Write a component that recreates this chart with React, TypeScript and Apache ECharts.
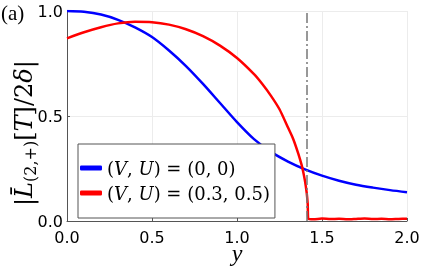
import React, { useEffect, useRef } from "react";
import * as echarts from "echarts";

const xTicks = [0, 0.5, 1.0, 1.5, 2.0];
const yTicks = [0, 0.5, 1.0];
const seriesNames = ["(V,U)=(0,0)", "(V,U)=(0.3,0.5)"];

const blueX = [0, 0.1, 0.2, 0.3, 0.4, 0.5, 0.6, 0.7, 0.8, 0.9, 1.0, 1.1, 1.2, 1.3, 1.4, 1.5, 1.6, 1.7, 1.8, 1.9, 2.0];
const blueY = [1.0, 0.996, 0.983, 0.958, 0.922, 0.876, 0.812, 0.738, 0.653, 0.562, 0.471, 0.39, 0.329, 0.283, 0.246, 0.216, 0.192, 0.173, 0.159, 0.147, 0.137];

const redX = [0, 0.1, 0.2, 0.3, 0.4, 0.5, 0.6, 0.7, 0.8, 0.9, 1.0, 1.1, 1.15, 1.2, 1.25, 1.3, 1.33, 1.36, 1.38, 1.39, 1.4, 1.41, 1.416, 1.42, 1.45, 1.5, 1.55, 1.6, 1.65, 1.7, 1.75, 1.8, 1.85, 1.9, 1.95, 2.0];
const redY = [0.87, 0.899, 0.923, 0.941, 0.949, 0.947, 0.935, 0.913, 0.88, 0.835, 0.776, 0.699, 0.651, 0.596, 0.532, 0.445, 0.392, 0.322, 0.267, 0.232, 0.19, 0.134, 0.08, 0.01, 0.008, 0.012, 0.009, 0.011, 0.008, 0.01, 0.012, 0.009, 0.011, 0.008, 0.01, 0.011];

const thresholdX = 1.414;

export default function App() {
  const ref = useRef<HTMLDivElement>(null);
  useEffect(() => {
    if (!ref.current) return;
    const chart = echarts.init(ref.current, undefined, { renderer: "svg" });
    const serif = "'Liberation Serif', 'DejaVu Serif', serif";
    const serif2 = "'DejaVu Serif', serif";
    const sans = "'DejaVu Sans', sans-serif";
    chart.setOption({
      animation: false,
      grid: { left: 67, right: 14, top: 11, bottom: 48, outerBoundsMode: "none", containLabel: false },
      xAxis: {
        type: "value",
        min: xTicks[0],
        max: xTicks[xTicks.length - 1],
        interval: 0.5,
        name: "y",
        nameLocation: "middle",
        nameGap: 24,
        nameMoveOverlap: false,
        nameTextStyle: { fontFamily: serif, fontStyle: "italic", fontSize: 24, color: "#000", lineHeight: 15 },
        axisLine: { show: true, onZero: false, lineStyle: { color: "#555", width: 1 } },
        axisTick: { show: true, inside: true, length: 3, lineStyle: { color: "#555" } },
        axisLabel: { fontFamily: sans, fontSize: 16, color: "#000", margin: 8, formatter: (v: number) => v.toFixed(1) },
        splitLine: { show: true, lineStyle: { color: "#ececec", width: 1 } },
      },
      yAxis: {
        type: "value",
        min: yTicks[0],
        max: yTicks[yTicks.length - 1],
        interval: 0.5,
        axisLine: { show: true, onZero: false, lineStyle: { color: "#555", width: 1 } },
        axisTick: { show: true, inside: true, length: 3, lineStyle: { color: "#555" } },
        axisLabel: { fontFamily: sans, fontSize: 16, color: "#000", margin: 4, formatter: (v: number) => v.toFixed(1) },
        splitLine: { show: true, lineStyle: { color: "#ececec", width: 1 } },
      },
      legend: {
        orient: "vertical",
        left: 78,
        top: 144,
        padding: [15, 5, 16, 2],
        itemGap: 7,
        itemWidth: 22,
        itemHeight: 5,
        icon: "roundRect",
        backgroundColor: "#fff",
        borderColor: "#555",
        borderWidth: 1,
        borderRadius: 0,
        data: seriesNames,
        formatter: (name: string) =>
          name === seriesNames[0]
            ? "({i|V}, {i|U}) = (0, 0)"
            : "({i|V}, {i|U}) = (0.3, 0.5)",
        textStyle: {
          fontFamily: serif2,
          fontSize: 18,
          color: "#000",
          rich: { i: { fontFamily: serif2, fontSize: 18, fontStyle: "italic", color: "#000" } },
        },
      },
      series: [
        {
          name: seriesNames[0],
          type: "line",
          showSymbol: false,
          smooth: 0.3,
          data: blueX.map((x, i) => [x, blueY[i]]),
          lineStyle: { color: "#0000ff", width: 2.5 },
          itemStyle: { color: "#0000ff" },
          z: 3,
        },
        {
          name: seriesNames[1],
          type: "line",
          showSymbol: false,
          smooth: 0.2,
          data: redX.map((x, i) => [x, redY[i]]),
          lineStyle: { color: "#ff0000", width: 2.5 },
          itemStyle: { color: "#ff0000" },
          z: 3,
          markLine: {
            silent: true,
            symbol: "none",
            label: { show: false },
            lineStyle: { color: "#777", width: 1.5, type: [10, 3, 2, 3] },
            data: [{ xAxis: thresholdX }],
          },
        },
      ],
      graphic: [
        {
          type: "text",
          left: 1,
          top: 2,
          style: { text: "(a)", fontFamily: serif, fontSize: 21, fill: "#000" },
        },
        {
          type: "text",
          x: 10,
          y: 206,
          rotation: Math.PI / 2,
          style: {
            text: "|{i|L\u0304}{s|(2,+)}[{i|T}]/2{i|δ}|",
            fontFamily: serif2,
            fontSize: 24,
            fill: "#000",
            align: "left",
            verticalAlign: "top",
            rich: {
              i: { fontFamily: serif2, fontSize: 24, fontStyle: "italic", fill: "#000" },
              s: { fontFamily: serif2, fontSize: 16, fill: "#000", padding: [12, 0, 0, 0] },
            },
          },
        },
      ],
    });
    return () => chart.dispose();
  }, []);
  return <div ref={ref} style={{ position: "fixed", left: 0, top: 0, width: 421, height: 269 }} />;
}
